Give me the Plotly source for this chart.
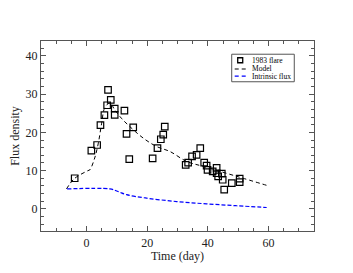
import plotly.graph_objects as go

# Observed 1983 flare data
obs_t = [-3.9, 1.6, 3.5, 4.6, 5.9, 6.8, 7.1, 8.0, 9.3, 9.3, 12.5, 13.2, 14.1, 15.4,
         21.8, 23.4, 24.5, 25.3, 25.8, 32.7, 33.5, 34.8, 36.3, 37.5, 38.8, 39.6, 39.9,
         41.6, 42.9, 42.9, 43.4, 44.6, 44.9, 45.4, 47.9, 50.5, 50.5]
obs_f = [8.0, 15.2, 16.7, 21.9, 24.5, 27.1, 31.1, 28.5, 26.2, 24.6, 25.7, 19.6, 13.0, 21.3,
         13.2, 15.9, 18.2, 19.4, 21.5, 11.5, 12.1, 13.7, 14.1, 15.9, 12.1, 11.3, 10.2,
         9.8, 10.7, 9.3, 8.5, 9.2, 7.6, 5.0, 6.7, 7.9, 7.0]

# Model curve
model_t = [-6.6, -4.0, 0.5, 1.1, 2.7, 3.9, 5.0, 6.0, 7.7, 9.3, 11.5, 14.3, 18.7, 23.1,
           27.5, 33.0, 38.5, 49.5, 60.0]
model_f = [5.2, 7.9, 10.0, 10.2, 13.3, 17.2, 22.4, 26.4, 27.7, 25.9, 23.7, 21.5, 18.5, 16.3,
           15.0, 12.4, 11.1, 8.5, 6.0]

# Intrinsic flux curve
intr_t = [-6.4, 7.7, 10.5, 13.2, 19.8, 29.7, 39.6, 49.5, 59.4]
intr_f = [5.2, 5.2, 4.5, 3.7, 2.8, 1.9, 1.3, 0.8, 0.35]

legend_labels = ["1983 flare", "Model", "Intrinsic flux"]

OFF = 8  # page body margin
W, H = 337, 257
L, T = 33, 33.3
R = W - (313.7 - OFF)
B = H - (231 - OFF)
PW, PH = W - L - R, H - T - B


def px(x):
    return (x - OFF - L) / PW


def py(y):
    return (H - B - (y - OFF)) / PH


FONT = "Liberation Serif"
AX = "#555555"

fig = go.Figure()
fig.add_trace(go.Scatter(x=obs_t, y=obs_f, mode="markers", name=legend_labels[0],
                         marker=dict(symbol="square-open", size=6.5, color="black",
                                     line=dict(width=1.2, color="black"))))
fig.add_trace(go.Scatter(x=model_t, y=model_f, mode="lines", name=legend_labels[1],
                         line=dict(color="black", width=1, dash="4px,3px", shape="spline")))
fig.add_trace(go.Scatter(x=intr_t, y=intr_f, mode="lines", name=legend_labels[2],
                         line=dict(color="blue", width=1.2, dash="4px,2px", shape="spline")))

axis_common = dict(showline=True, linecolor=AX, linewidth=1.2, mirror="allticks",
                   ticks="inside", ticklen=5, tickcolor=AX, tickwidth=1,
                   showgrid=False, zeroline=False, automargin=False,
                   tickfont=dict(family=FONT, size=12, color="#222222"),
                   title_font=dict(family=FONT, size=12, color="#222222"))

fig.update_xaxes(range=[-15, 75], dtick=20, tick0=0,
                 minor=dict(ticks="inside", dtick=5, ticklen=3, tickcolor=AX),
                 title_text="Time (day)", title_standoff=0, **axis_common)
fig.update_yaxes(range=[-5.8, 43.9], dtick=10, tick0=0,
                 minor=dict(ticks="inside", dtick=2, ticklen=3, tickcolor=AX),
                 title_text="Flux density", title_standoff=4, **axis_common)

# Hand-drawn compact legend (paper coordinates computed from page pixel positions)
shapes = [
    dict(type="rect", xref="paper", yref="paper", x0=px(231.5), x1=px(294), y0=py(82), y1=py(54.5),
         line=dict(color=AX, width=1), fillcolor="white", layer="above"),
    dict(type="rect", xref="paper", yref="paper", x0=px(237.5), x1=px(242.5), y0=py(63), y1=py(58),
         line=dict(color="black", width=1.3), layer="above"),
    dict(type="line", xref="paper", yref="paper", x0=px(234.5), x1=px(246), y0=py(69.3), y1=py(69.3),
         line=dict(color="black", width=1.1, dash="4px,3px"), layer="above"),
    dict(type="line", xref="paper", yref="paper", x0=px(234.5), x1=px(246), y0=py(76.3), y1=py(76.3),
         line=dict(color="blue", width=1.2, dash="4px,3px"), layer="above"),
]
annotations = []
for lab, yy in zip(legend_labels, [60.5, 68.8, 76.3]):
    annotations.append(dict(xref="paper", yref="paper", x=px(251), y=py(yy), text=lab,
                            showarrow=False, xanchor="left", yanchor="middle", borderpad=0,
                            font=dict(family=FONT, size=7.5, color="black")))

fig.update_layout(
    width=W, height=H,
    margin=dict(l=L, r=R, t=T, b=B),
    plot_bgcolor="white", paper_bgcolor="white",
    showlegend=False,
    shapes=shapes, annotations=annotations,
)

fig.write_html("out.html")
